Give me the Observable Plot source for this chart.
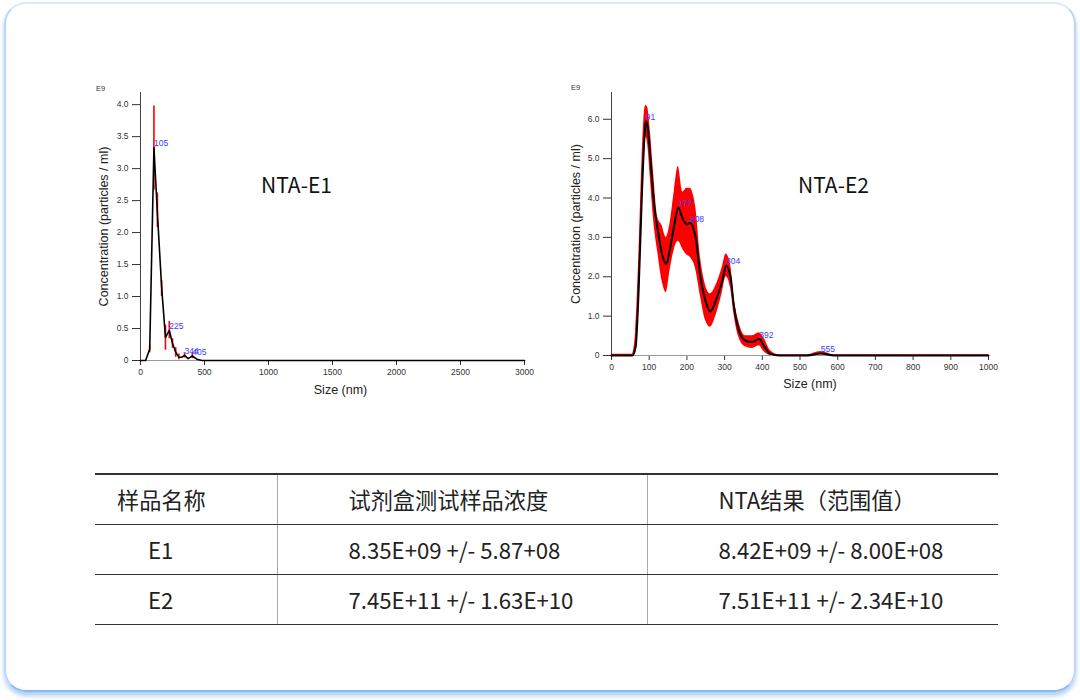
<!DOCTYPE html>
<html>
<head>
<meta charset="utf-8">
<script src="https://cdn.jsdelivr.net/npm/d3@7"></script>
<script src="https://cdn.jsdelivr.net/npm/@observablehq/plot@0.6"></script>
<style>
  html, body { margin: 0; padding: 0; background: #ffffff; }
  #page { position: relative; width: 1080px; height: 700px; overflow: hidden; }
  .card { position: absolute; left: 4px; top: 2px; width: 1068px; height: 686px;
          border: 2px solid; border-color: #dbe9fb #b9d5f7 #86b8f1 #b9d5f7;
          border-radius: 22px; box-shadow: 0 4px 4px rgba(80,150,235,0.45); }
  .plot { position: absolute; left: 0; top: 0; }
  table { position: absolute; left: 95px; top: 473px; width: 903px; border-collapse: collapse;
          font-family: "Noto Sans CJK SC", sans-serif; font-size: 22.2px; color: #222; }
  td { height: 50px; padding: 0; border-top: 1.5px solid #333; border-bottom: 1.5px solid #333; vertical-align: middle; white-space: nowrap; }
  td + td { border-left: 1px solid #aaa; }
  tr:first-child td { border-top: 2px solid #333; }
</style>
</head>
<body>
<div id="page">
  <div class="card"></div>
  <div id="left" class="plot"></div>
  <div id="right" class="plot"></div>
  <table id="tbl"></table>
</div>
<script>
// ---------- E1 data ----------
const e1Size = [0, 40, 72, 105, 132, 165, 195, 225, 250, 275, 300, 322, 344, 372, 405, 440, 480, 3000];
const e1Conc = [0, 0, 0.18, 3.33, 2.3, 1.15, 0.36, 0.47, 0.27, 0.13, 0.05, 0.05, 0.08, 0.03, 0.07, 0.02, 0, 0];
const e1ErrSize = [72, 105, 132, 165, 195, 225, 250, 275, 300, 344, 405];
const e1ErrLo   = [0.12, 2.66, 2.08, 1.0, 0.16, 0.34, 0.19, 0.05, 0.01, 0.04, 0.03];
const e1ErrHi   = [0.24, 3.98, 2.62, 1.25, 0.55, 0.61, 0.34, 0.2, 0.1, 0.12, 0.12];
const e1PeakSize = [105, 225, 344, 405];
const e1PeakConc = [3.33, 0.47, 0.08, 0.07];
const e1XTicks = [0, 500, 1000, 1500, 2000, 2500, 3000];
const e1YTicks = [0, 0.5, 1.0, 1.5, 2.0, 2.5, 3.0, 3.5, 4.0];

// ---------- E2 data ----------
const e2Size = [0, 55, 64, 72, 81, 88, 91, 96, 103, 112, 123, 134, 145, 156, 167, 177, 189, 200, 208, 223, 236, 249, 262, 280, 294, 304, 316, 324, 338, 355, 373, 392, 404, 422, 445, 520, 555, 590, 1000];
const e2Conc = [0, 0, 0.21, 1.65, 4.19, 5.63, 5.95, 5.8, 5.03, 3.93, 3.17, 2.58, 2.33, 2.75, 3.34, 3.76, 3.47, 3.33, 3.37, 3.0, 1.99, 1.40, 1.12, 1.48, 1.90, 2.28, 1.99, 1.31, 0.63, 0.38, 0.34, 0.42, 0.25, 0.04, 0, 0, 0.05, 0, 0];
const e2Lo   = [0, 0, 0.05, 1.2, 3.6, 5.2, 5.55, 5.35, 4.5, 3.4, 2.6, 1.9, 1.6, 2.2, 2.7, 2.9, 2.7, 2.55, 2.5, 2.2, 1.5, 0.9, 0.72, 1.1, 1.6, 2.0, 1.7, 1.1, 0.45, 0.22, 0.18, 0.25, 0.1, 0, 0, 0, 0.02, 0, 0];
const e2Hi   = [0.03, 0.03, 0.6, 2.4, 5.0, 6.25, 6.35, 6.3, 5.7, 4.6, 3.5, 3.3, 3.0, 3.4, 4.2, 4.8, 4.15, 4.25, 4.25, 3.8, 2.5, 1.8, 1.57, 1.85, 2.25, 2.58, 2.3, 1.55, 0.85, 0.5, 0.5, 0.58, 0.45, 0.12, 0.02, 0.02, 0.1, 0.02, 0.02];
const e2PeakSize = [91, 177, 208, 304, 392, 555];
const e2PeakConc = [5.95, 3.76, 3.37, 2.28, 0.42, 0.05];
const e2XTicks = [0, 100, 200, 300, 400, 500, 600, 700, 800, 900, 1000];
const e2YTicks = [0, 1.0, 2.0, 3.0, 4.0, 5.0, 6.0];

// ---------- Table ----------
const tableHeader = ["样品名称", "试剂盒测试样品浓度", "NTA结果（范围值）"];
const sampleNames = ["E1", "E2"];
const kitValues = ["8.35E+09 +/- 5.87+08", "7.45E+11 +/- 1.63E+10"];
const ntaValues = ["8.42E+09 +/- 8.00E+08", "7.51E+11 +/- 2.34E+10"];

const fmt = d => d === 0 ? "0" : d.toFixed(1);
const baseStyle = {fontFamily: "'Liberation Sans', Arial, sans-serif", fontSize: "8.5px", color: "#333", background: "transparent", overflow: "visible"};
const peakColor = "#3c3cff";
const txt = d => d;

// Left chart
const e1 = e1Size.map((s, i) => ({size: s, conc: e1Conc[i]}));
const e1Err = e1ErrSize.map((s, i) => ({size: s, lo: e1ErrLo[i], hi: e1ErrHi[i]}));
const e1Peaks = e1PeakSize.map((s, i) => ({size: s, conc: e1PeakConc[i], label: String(s)}));

const left = Plot.plot({
  width: 1080, height: 420,
  marginLeft: 140, marginRight: 556, marginTop: 92, marginBottom: 60,
  style: baseStyle,
  x: {domain: [0, 3000], ticks: e1XTicks, tickSize: 5, tickPadding: 3, label: null, tickFormat: d => String(d)},
  y: {domain: [0, 4.19], ticks: e1YTicks, tickSize: 8, tickPadding: 4, label: null, tickFormat: fmt},
  marks: [
    Plot.ruleY([0], {stroke: "#999"}),
    Plot.ruleX([0], {stroke: "#444"}),
    Plot.ruleX(e1Err, {x: "size", y1: "lo", y2: "hi", stroke: "#ff0000", strokeWidth: 1.6}),
    Plot.line(e1, {x: "size", y: "conc", stroke: "#000", strokeWidth: 1.6}),
    Plot.text(e1Peaks, {x: "size", y: "conc", text: "label", textAnchor: "start", dy: -4, fill: peakColor, fontSize: 8.5}),
    Plot.text(["E9"], {text: txt, frameAnchor: "top-left", textAnchor: "middle", lineAnchor: "middle", dx: -40, dy: -4, fontSize: 7.5, fill: "#333"}),
    Plot.text(["Concentration (particles / ml)"], {text: txt, frameAnchor: "left", textAnchor: "middle", lineAnchor: "middle", rotate: -90, dx: -37, fontSize: 12.5, fill: "#222"}),
    Plot.text(["Size (nm)"], {text: txt, frameAnchor: "bottom", textAnchor: "middle", lineAnchor: "middle", dx: 8, dy: 29, fontSize: 12.5, fill: "#222"}),
    Plot.text(["NTA-E1"], {text: txt, frameAnchor: "top-left", textAnchor: "middle", lineAnchor: "middle", dx: 156, dy: 94, fontSize: 21, fontFamily: "'Noto Sans CJK SC', sans-serif", fill: "#111"})
  ]
});
document.getElementById("left").appendChild(left);

// Right chart
const e2 = e2Size.map((s, i) => ({size: s, conc: e2Conc[i], lo: e2Lo[i], hi: e2Hi[i]}));
const e2Peaks = e2PeakSize.map((s, i) => ({size: s, conc: e2PeakConc[i], label: String(s)}));

const right = Plot.plot({
  width: 1080, height: 420,
  marginLeft: 611, marginRight: 92, marginTop: 92, marginBottom: 65,
  style: baseStyle,
  x: {domain: [0, 1000], ticks: e2XTicks, tickSize: 5, tickPadding: 3, label: null, tickFormat: d => String(d)},
  y: {domain: [0, 6.68], ticks: e2YTicks, tickSize: 8, tickPadding: 4, label: null, tickFormat: fmt},
  marks: [
    Plot.ruleY([0], {stroke: "#999"}),
    Plot.ruleX([0], {stroke: "#444"}),
    Plot.areaY(e2, {x: "size", y1: "lo", y2: "hi", fill: "#ff0000", curve: "monotone-x"}),
    Plot.line(e2, {x: "size", y: "conc", stroke: "#000", strokeWidth: 2, curve: "monotone-x"}),
    Plot.text(e2Peaks, {x: "size", y: "conc", text: "label", textAnchor: "start", dy: -4, fill: peakColor, fontSize: 8.5}),
    Plot.text(["E9"], {text: txt, frameAnchor: "top-left", textAnchor: "middle", lineAnchor: "middle", dx: -36, dy: -5, fontSize: 7.5, fill: "#333"}),
    Plot.text(["Concentration (particles / ml)"], {text: txt, frameAnchor: "left", textAnchor: "middle", lineAnchor: "middle", rotate: -90, dx: -36, fontSize: 12.5, fill: "#222"}),
    Plot.text(["Size (nm)"], {text: txt, frameAnchor: "bottom", textAnchor: "middle", lineAnchor: "middle", dx: 10, dy: 28, fontSize: 12.5, fill: "#222"}),
    Plot.text(["NTA-E2"], {text: txt, frameAnchor: "top-left", textAnchor: "middle", lineAnchor: "middle", dx: 222, dy: 94, fontSize: 21, fontFamily: "'Noto Sans CJK SC', sans-serif", fill: "#111"})
  ]
});
document.getElementById("right").appendChild(right);

// Table
const tbl = document.getElementById("tbl");
const colWidths = [182, 370, 351];
const padHeader = [22, 71, 71];
const padBody = [53, 71, 71];
function addRow(cells, pads) {
  const tr = document.createElement("tr");
  cells.forEach((c, i) => {
    const td = document.createElement("td");
    td.textContent = c;
    td.style.width = colWidths[i] + "px";
    td.style.paddingLeft = pads[i] + "px";
    td.style.boxSizing = "border-box";
    tr.appendChild(td);
  });
  tbl.appendChild(tr);
}
addRow(tableHeader, padHeader);
sampleNames.forEach((n, i) => addRow([n, kitValues[i], ntaValues[i]], padBody));
</script>
</body>
</html>
